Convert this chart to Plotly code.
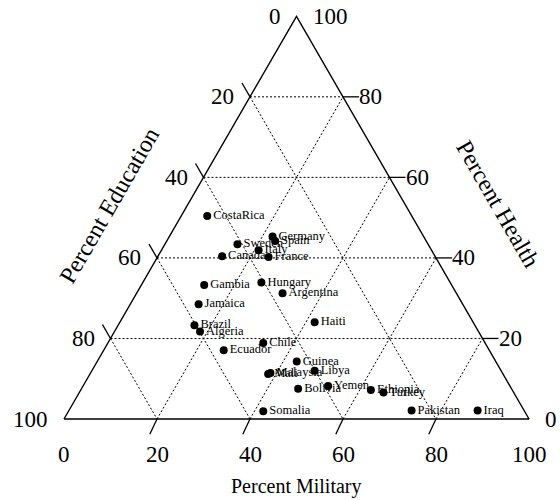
import numpy as np
import plotly.graph_objects as go

# Share of public spending (percent) by country
countries = ["CostaRica", "Germany", "Spain", "Sweden", "Italy", "Canada", "France",
             "Hungary", "Gambia", "Argentina", "Jamaica", "Haiti", "Brazil", "Algeria",
             "Chile", "Ecuador", "Guinea", "Mali", "Malaysia", "Libya", "Bolivia",
             "Yemen", "Ethiopia", "Turkey", "Somalia", "Pakistan", "Iraq"]
military = [5.6, 22.2, 23.3, 15.6, 20.9, 13.8, 23.9,
            25.5, 13.5, 31.4, 14.7, 41.9, 16.4, 18.4,
            33.4, 25.8, 42.9, 38.3, 38.7, 47.9, 46.6,
            52.7, 62.4, 65.4, 41.9, 73.7, 87.9]
health = [50.4, 45.3, 44.2, 43.4, 41.9, 40.4, 40.2,
          33.9, 33.3, 31.2, 28.5, 24.0, 23.3, 21.7,
          18.9, 17.1, 14.3, 11.2, 11.4, 12.0, 7.5,
          8.2, 7.2, 6.6, 1.9, 2.1, 2.1]
education = [round(100 - m - h, 1) for m, h in zip(military, health)]

tick_values = [0, 20, 40, 60, 80, 100]
grid_values = [20, 40, 60, 80]

SQ = np.sqrt(3) / 2
PX = 4.65            # pixels per percent along an edge
TICK_LEN = 16 / PX   # tick length in plot units


def to_xy(m, e, h):
    """Military grows toward the bottom-right vertex, health toward the top."""
    m = np.asarray(m, dtype=float)
    h = np.asarray(h, dtype=float)
    return m + h / 2, h * SQ


def segments(pairs):
    xs, ys = [], []
    for (x0, y0), (x1, y1) in pairs:
        xs += [x0, x1, None]
        ys += [y0, y1, None]
    return xs, ys


fig = go.Figure()

# dotted grid
grid = []
for v in grid_values:
    grid.append((to_xy(0, 100 - v, v), to_xy(100 - v, 0, v)))      # constant health
    grid.append((to_xy(0, v, 100 - v), to_xy(100 - v, v, 0)))      # constant education
    grid.append((to_xy(v, 100 - v, 0), to_xy(v, 0, 100 - v)))      # constant military
gx, gy = segments(grid)
fig.add_trace(go.Scatter(x=gx, y=gy, mode="lines", hoverinfo="skip",
                         line=dict(color="black", width=1, dash="2px,2px")))

# triangle outline
corners = [to_xy(0, 100, 0), to_xy(100, 0, 0), to_xy(0, 0, 100), to_xy(0, 100, 0)]
fig.add_trace(go.Scatter(x=[c[0] for c in corners], y=[c[1] for c in corners],
                         mode="lines", hoverinfo="skip",
                         line=dict(color="black", width=1.4)))

# tick marks, extending the grid lines outward
ticks = []
for v in grid_values:
    x, y = to_xy(0, v, 100 - v)                      # education (left edge)
    ticks.append(((x, y), (x - 0.5 * TICK_LEN, y + SQ * TICK_LEN)))
    x, y = to_xy(v, 100 - v, 0)                      # military (bottom edge)
    ticks.append(((x, y), (x - 0.45 * TICK_LEN, y - 0.95 * TICK_LEN)))
    x, y = to_xy(100 - v, 0, v)                      # health (right edge)
    ticks.append(((x, y), (x + TICK_LEN, y)))
tx, ty = segments(ticks)
fig.add_trace(go.Scatter(x=tx, y=ty, mode="lines", hoverinfo="skip",
                         line=dict(color="black", width=1.3)))

# countries
px_, py_ = to_xy(military, education, health)
fig.add_trace(go.Scatter(
    x=px_, y=py_, mode="markers+text", text=countries,
    textposition="middle right",
    textfont=dict(family="Liberation Serif", size=12.5, color="black"),
    marker=dict(color="black", size=8),
    customdata=np.stack([military, education, health], axis=1),
    hovertemplate="%{text}<br>Military %{customdata[0]}%<br>"
                  "Education %{customdata[1]}%<br>Health %{customdata[2]}%<extra></extra>",
))

tick_font = dict(family="Liberation Serif", size=23, color="black")
annotations = []
for v in tick_values:
    x, y = to_xy(0, v, 100 - v)
    annotations.append(dict(x=x, y=y, text=str(v), xanchor="right", yanchor="middle",
                            xshift=-14, yshift=0, showarrow=False, font=tick_font))
    x, y = to_xy(v, 100 - v, 0)
    annotations.append(dict(x=x, y=y, text=str(v), xanchor="center", yanchor="middle",
                            xshift=0, yshift=-35, showarrow=False, font=tick_font))
    x, y = to_xy(100 - v, 0, v)
    annotations.append(dict(x=x, y=y, text=str(v), xanchor="left", yanchor="middle",
                            xshift=14, yshift=0, showarrow=False, font=tick_font))

title_font = dict(family="Liberation Serif", size=20, color="black")
side_font = dict(family="Liberation Serif", size=24, color="black")
annotations += [
    dict(x=296 / 560, y=1 - 486 / 500, xref="paper", yref="paper", text="Percent Military",
         showarrow=False, font=title_font, xanchor="center", yanchor="middle"),
    dict(x=109 / 560, y=1 - 206 / 500, xref="paper", yref="paper", text="Percent Education",
         showarrow=False, font=side_font, textangle=-60, xanchor="center", yanchor="middle"),
    dict(x=498 / 560, y=1 - 204 / 500, xref="paper", yref="paper", text="Percent Health",
         showarrow=False, font=side_font, textangle=60, xanchor="center", yanchor="middle"),
]

x0 = -64 / PX
fig.update_layout(
    width=560, height=500, autosize=False,
    margin=dict(l=0, r=0, t=0, b=0),
    paper_bgcolor="white", plot_bgcolor="white",
    showlegend=False,
    xaxis=dict(range=[x0, x0 + 560 / PX], visible=False, fixedrange=True),
    yaxis=dict(range=[-(500 - 419) / PX, 419 / PX], visible=False, fixedrange=True),
    annotations=annotations,
)

fig.write_html("out.html")
